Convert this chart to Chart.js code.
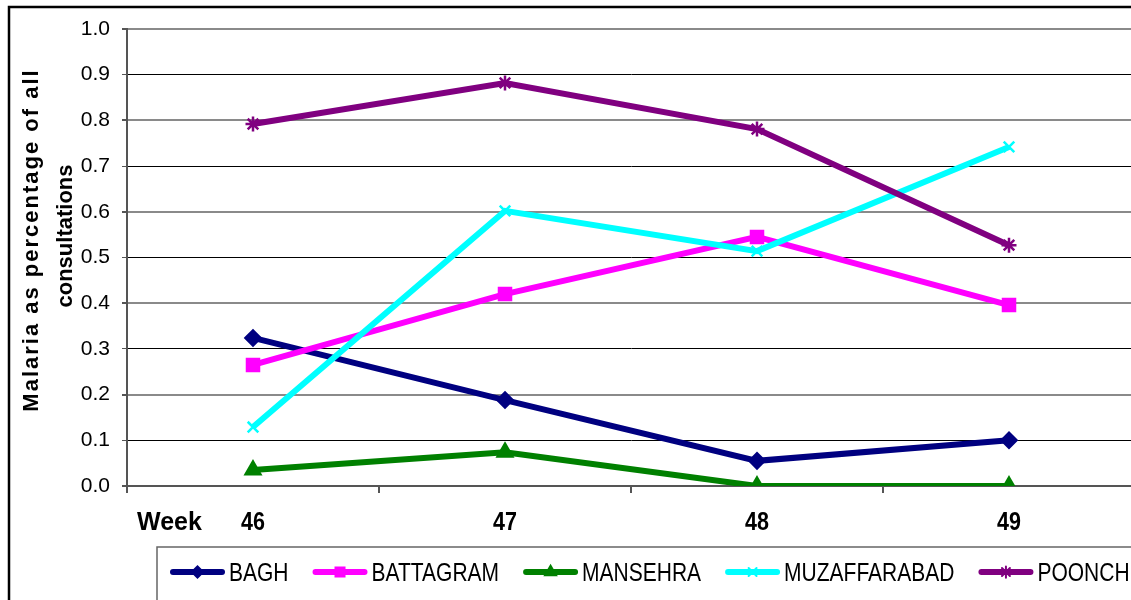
<!DOCTYPE html>
<html>
<head>
<meta charset="utf-8">
<script src="https://cdn.jsdelivr.net/npm/chart.js@4/dist/chart.umd.min.js"></script>
<style>
  html, body { margin: 0; padding: 0; background: #fff; overflow: hidden; }
  #wrap { position: absolute; left: 0; top: 0; width: 1160px; height: 600px; }
</style>
</head>
<body>
<div id="wrap"><canvas id="myChart" width="1160" height="600"></canvas></div>
<script>
// week numbers along the x axis
const weeks = ['46', '47', '48', '49'];

// malaria as percentage of all consultations, per district
const bagh = [0.324, 0.188, 0.055, 0.100];
const battagram = [0.265, 0.420, 0.545, 0.396];
const mansehra = [0.035, 0.074, 0.000, 0.000];
const muzaffarabad = [0.129, 0.602, 0.514, 0.742];
const poonch = [0.792, 0.882, 0.781, 0.527];

const seriesNames = ['BAGH', 'BATTAGRAM', 'MANSEHRA', 'MUZAFFARABAD', 'POONCH'];
const seriesData = [bagh, battagram, mansehra, muzaffarabad, poonch];
const seriesColors = ['#000080', '#FF00FF', '#008000', '#00FFFF', '#800080'];
const seriesMarkers = ['rectRot', 'rect', 'triangle', 'crossRot', 'star'];
const markerSizes = [7.5, 8.5, 8.5, 7.5, 7.5];

const FONT = "Arial, 'Liberation Sans', sans-serif";
Chart.defaults.font.family = FONT;
Chart.defaults.color = '#000';

let datasets = seriesNames.map((name, i) => ({
  label: name,
  data: seriesData[i],
  borderColor: seriesColors[i],
  backgroundColor: seriesColors[i],
  borderWidth: 6,
  pointStyle: seriesMarkers[i],
  pointRadius: markerSizes[i],
  pointHoverRadius: markerSizes[i],
  pointBorderWidth: 2.5,
  tension: 0,
  order: seriesNames.length - i
}));

// texts, legend box and outer frame
const decorations = {
  id: 'decorations',
  afterDraw(chart) {
    const ctx = chart.ctx;
    ctx.save();

    // outer frame
    ctx.strokeStyle = '#000';
    ctx.lineWidth = 2.5;
    ctx.strokeRect(9, 7, 1300, 700);

    // y axis title, two lines
    ctx.fillStyle = '#000';
    ctx.textAlign = 'center';
    ctx.textBaseline = 'alphabetic';
    ctx.font = 'bold 22px ' + FONT;
    ctx.save();
    ctx.translate(38, 240);
    ctx.rotate(-Math.PI / 2);
    ctx.letterSpacing = '2px';
    ctx.fillText('Malaria as percentage of all', 0, 0);
    ctx.restore();
    ctx.save();
    ctx.translate(72, 236);
    ctx.rotate(-Math.PI / 2);
    ctx.fillText('consultations', 0, 0);
    ctx.restore();

    // category labels, a bit tall and narrow like the original
    const xs = chart.scales.x;
    ctx.font = 'bold 25px ' + FONT;
    chart.data.labels.forEach((lab, i) => {
      ctx.save();
      ctx.translate(xs.getPixelForValue(i), 530);
      ctx.scale(0.86, 1);
      ctx.fillText(lab, 0, 0);
      ctx.restore();
    });

    // "Week" label on the left of the categories
    ctx.textAlign = 'left';
    ctx.fillText('Week', 137, 530);

    // legend box
    ctx.strokeStyle = '#666';
    ctx.lineWidth = 1.5;
    ctx.strokeRect(157, 547, 1100, 200);

    let x = 170;
    const ly = 572;
    chart.data.datasets.forEach(ds => {
      ctx.strokeStyle = ds.borderColor;
      ctx.fillStyle = ds.backgroundColor;
      ctx.lineWidth = 6;
      ctx.lineCap = 'round';
      ctx.beginPath();
      ctx.moveTo(x + 3, ly);
      ctx.lineTo(x + 52, ly);
      ctx.stroke();
      ctx.lineWidth = 2;
      Chart.helpers.drawPoint(ctx, {
        pointStyle: ds.pointStyle,
        radius: ds.pointRadius * 0.75,
        rotation: 0,
        borderWidth: 2
      }, x + 27.5, ly);

      ctx.fillStyle = '#000';
      ctx.font = '25px ' + FONT;
      const tx = x + 59;
      const w = ctx.measureText(ds.label).width * 0.84;
      ctx.save();
      ctx.translate(tx, 581);
      ctx.scale(0.84, 1);
      ctx.fillText(ds.label, 0, 0);
      ctx.restore();
      x = tx + w + 24;
    });

    ctx.restore();
  }
};

const isEven = c => c.tick && Math.round(c.tick.value * 10) % 2 === 0;

let myChart = new Chart(document.getElementById('myChart').getContext('2d'), {
  type: 'line',
  data: { labels: weeks, datasets: datasets },
  options: {
    responsive: false,
    animation: false,
    layout: { padding: { left: 0, top: 29, right: 25, bottom: 0 } },
    plugins: {
      legend: { display: false },
      title: { display: false },
      tooltip: { enabled: false }
    },
    scales: {
      x: {
        offset: true,
        afterFit: s => { s.height = 114; },
        grid: {
          offset: true,
          drawOnChartArea: false,
          tickLength: 7,
          color: '#555',
          lineWidth: 2
        },
        border: { display: true, color: '#555', width: 2 },
        ticks: { display: false }
      },
      y: {
        min: 0,
        max: 1,
        afterFit: s => { s.width = 127; },
        grid: {
          color: c => isEven(c) ? '#8a8a8a' : '#000',
          lineWidth: c => isEven(c) ? 2 : 1,
          tickColor: '#555',
          tickLength: 5
        },
        border: { display: true, color: '#555', width: 2 },
        ticks: {
          stepSize: 0.1,
          padding: 12,
          font: { size: 21 },
          color: '#000',
          callback: v => v.toFixed(1)
        }
      }
    }
  },
  plugins: [decorations]
});
</script>
</body>
</html>
